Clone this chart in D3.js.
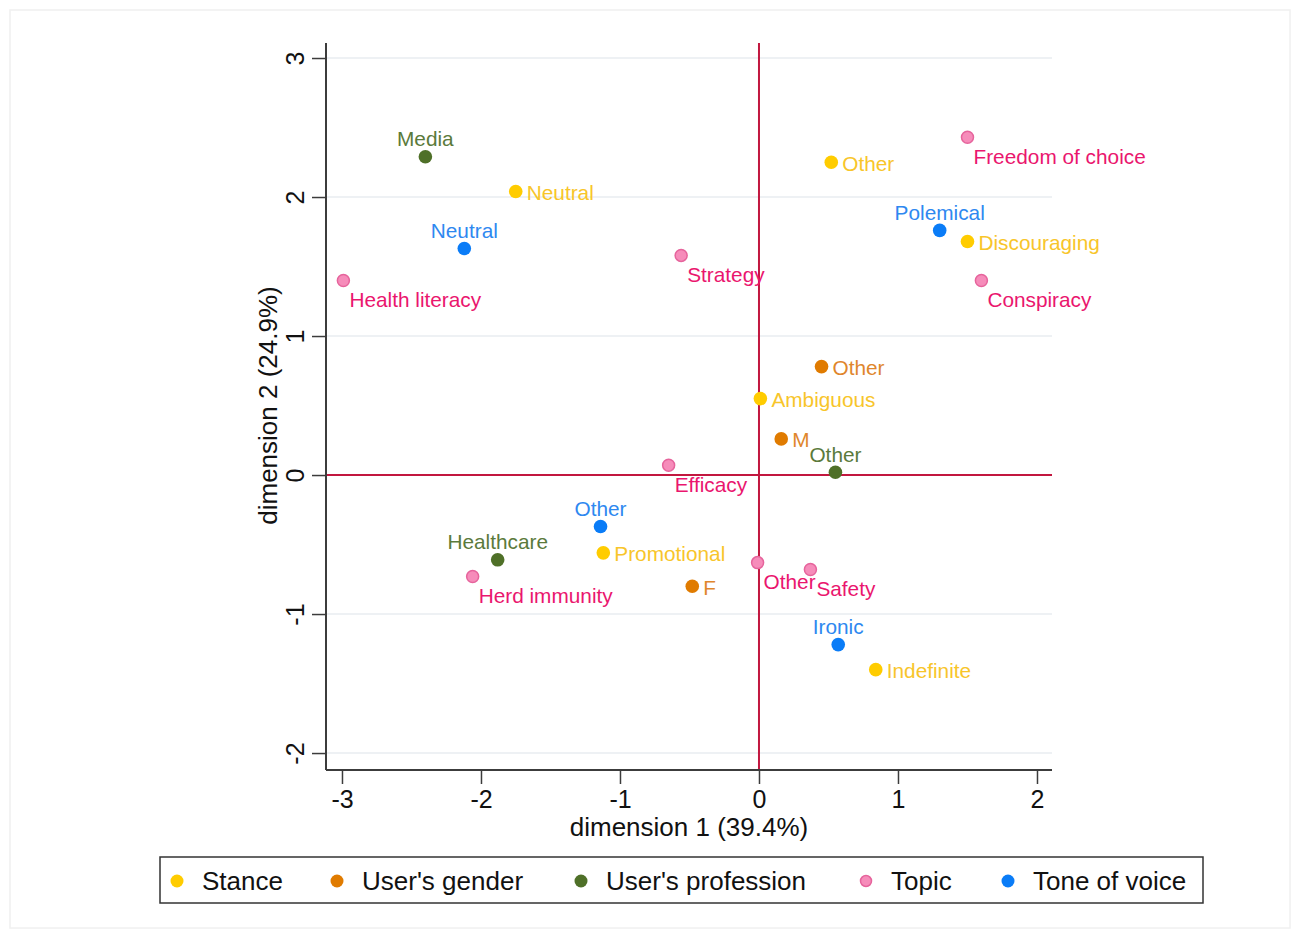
<!DOCTYPE html>
<html>
<head>
<meta charset="utf-8">
<script src="https://cdn.jsdelivr.net/npm/d3@7"></script>
<style>
  body { margin: 0; background: #fff; }
  svg { display: block; }
</style>
</head>
<body>
<div id="main-container"></div>
<script>
// Data
const GROUPS = ['Stance', "User's gender", "User's profession", 'Topic', 'Tone of voice'];
const POINT_LABELS = [
    'Media', 'Neutral', 'Neutral', 'Health literacy', 'Strategy', 'Other',
    'Freedom of choice', 'Polemical', 'Discouraging', 'Conspiracy', 'Other', 'Ambiguous',
    'M', 'Other', 'Efficacy', 'Other', 'Healthcare', 'Promotional',
    'Herd immunity', 'F', 'Other', 'Safety', 'Ironic', 'Indefinite'
];
const POINT_GROUPS = [
    "User's profession", 'Stance', 'Tone of voice', 'Topic', 'Topic', 'Stance',
    'Topic', 'Tone of voice', 'Stance', 'Topic', "User's gender", 'Stance',
    "User's gender", "User's profession", 'Topic', 'Tone of voice', "User's profession", 'Stance',
    'Topic', "User's gender", 'Topic', 'Topic', 'Tone of voice', 'Stance'
];
const DIM1 = [
    -2.40, -1.75, -2.12, -2.99, -0.56, 0.52,
    1.50, 1.30, 1.50, 1.60, 0.45, 0.01,
    0.16, 0.55, -0.65, -1.14, -1.88, -1.12,
    -2.06, -0.48, -0.01, 0.37, 0.57, 0.84
];
const DIM2 = [
    2.29, 2.04, 1.63, 1.40, 1.58, 2.25,
    2.43, 1.76, 1.68, 1.40, 0.78, 0.55,
    0.26, 0.02, 0.07, -0.37, -0.61, -0.56,
    -0.73, -0.80, -0.63, -0.68, -1.22, -1.40
];
const X_TICKS = [-3, -2, -1, 0, 1, 2];
const Y_TICKS = [-2, -1, 0, 1, 2, 3];
const X_TITLE = 'dimension 1 (39.4%)';
const Y_TITLE = 'dimension 2 (24.9%)';

// Styles per group
const DOT_FILL = { 'Stance': '#ffcc00', "User's gender": '#e07b00', "User's profession": '#4f7028', 'Topic': '#f68cba', 'Tone of voice': '#0a7cf7' };
const DOT_STROKE = { 'Stance': 'none', "User's gender": 'none', "User's profession": 'none', 'Topic': '#e6649c', 'Tone of voice': 'none' };
const TEXT_FILL = { 'Stance': '#f8c52a', "User's gender": '#e0862c', "User's profession": '#5b7a3b', 'Topic': '#ea166e', 'Tone of voice': '#2e88f0' };
const LABEL_POS = { 'Stance': 'right', "User's gender": 'right', "User's profession": 'above', 'Topic': 'below', 'Tone of voice': 'above' };

const W = 1296, H = 937;
const PLOT = { left: 326, right: 1052, top: 43, bottom: 770 };
const AXIS_FONT = '"Liberation Sans Narrow", "Liberation Sans", Arial, sans-serif';
const LABEL_FONT = '"Liberation Sans", Arial, sans-serif';

const SVG = d3.select('#main-container').append('svg')
    .attr('width', W)
    .attr('height', H);

// faint outer frame
SVG.append('rect')
    .attr('x', 10).attr('y', 10)
    .attr('width', 1280).attr('height', 918)
    .attr('fill', 'none')
    .attr('stroke', '#f0f0f0')
    .attr('stroke-width', 1.5);

// Scales
const X_SCALE = d3.scaleLinear().domain([-3.115, 2.108]).range([PLOT.left, PLOT.right]);
const Y_SCALE = d3.scaleLinear().domain([-2.122, 3.108]).range([PLOT.bottom, PLOT.top]);

// Gridlines
SVG.append('g')
    .selectAll('line')
    .data(Y_TICKS.filter(d => d !== 0))
    .enter().append('line')
    .attr('x1', PLOT.left).attr('x2', PLOT.right)
    .attr('y1', d => Y_SCALE(d)).attr('y2', d => Y_SCALE(d))
    .attr('stroke', '#e9edf0')
    .attr('stroke-width', 1.5);

// Reference lines at 0
SVG.append('line')
    .attr('x1', PLOT.left).attr('x2', PLOT.right)
    .attr('y1', Y_SCALE(0)).attr('y2', Y_SCALE(0))
    .attr('stroke', '#c2173f').attr('stroke-width', 2);
SVG.append('line')
    .attr('x1', X_SCALE(0)).attr('x2', X_SCALE(0))
    .attr('y1', PLOT.top).attr('y2', PLOT.bottom)
    .attr('stroke', '#c2173f').attr('stroke-width', 2);

// Axes (plain hyphen for negatives, like the original)
const fmt = d => String(d);
const xAxis = SVG.append('g')
    .attr('transform', `translate(0, ${PLOT.bottom})`)
    .call(d3.axisBottom(X_SCALE).tickValues(X_TICKS).tickSize(14).tickPadding(6).tickFormat(fmt));
const yAxis = SVG.append('g')
    .attr('transform', `translate(${PLOT.left}, 0)`)
    .call(d3.axisLeft(Y_SCALE).tickValues(Y_TICKS).tickSize(14).tickFormat(fmt));

[xAxis, yAxis].forEach(g => {
    g.select('.domain').attr('stroke', '#3c3c3c').attr('stroke-width', 2);
    g.selectAll('.tick line').attr('stroke', '#3c3c3c').attr('stroke-width', 1.5);
    g.selectAll('.tick text')
        .attr('fill', '#111')
        .style('font-family', AXIS_FONT)
        .style('font-size', '25px');
});
// the domain path of d3 has outer ticks; flatten it to a plain line
xAxis.select('.domain').attr('d', `M${PLOT.left},0H${PLOT.right}`);
yAxis.select('.domain').attr('d', `M0,${PLOT.top}V${PLOT.bottom}`);

yAxis.selectAll('.tick text')
    .attr('x', 0).attr('y', 0).attr('dy', '0.35em')
    .attr('text-anchor', 'middle')
    .attr('transform', 'translate(-31, 0) rotate(-90)');

// Axis titles
SVG.append('text')
    .attr('x', (PLOT.left + PLOT.right) / 2)
    .attr('y', 836)
    .attr('text-anchor', 'middle')
    .attr('fill', '#111')
    .style('font-family', AXIS_FONT)
    .style('font-size', '26px')
    .text(X_TITLE);
SVG.append('text')
    .attr('transform', `translate(277, ${Y_SCALE(0.5)}) rotate(-90)`)
    .attr('text-anchor', 'middle')
    .attr('fill', '#111')
    .style('font-family', AXIS_FONT)
    .style('font-size', '26px')
    .text(Y_TITLE);

// Points
const POINTS = POINT_LABELS.map((label, i) => ({ label, group: POINT_GROUPS[i], x: DIM1[i], y: DIM2[i] }));

SVG.append('g')
    .selectAll('circle')
    .data(POINTS)
    .enter().append('circle')
    .attr('cx', d => X_SCALE(d.x))
    .attr('cy', d => Y_SCALE(d.y))
    .attr('r', d => d.group === 'Topic' ? 6 : 6.8)
    .attr('fill', d => DOT_FILL[d.group])
    .attr('stroke', d => DOT_STROKE[d.group])
    .attr('stroke-width', 1.5);

SVG.append('g')
    .selectAll('text')
    .data(POINTS)
    .enter().append('text')
    .attr('x', d => {
        const pos = LABEL_POS[d.group];
        if (pos === 'right') return X_SCALE(d.x) + 11;
        if (pos === 'below') return X_SCALE(d.x) + 6;
        return X_SCALE(d.x);
    })
    .attr('y', d => {
        const pos = LABEL_POS[d.group];
        if (pos === 'above') return Y_SCALE(d.y) - 18;
        if (pos === 'below') return Y_SCALE(d.y) + 19;
        return Y_SCALE(d.y) + 1;
    })
    .attr('dy', '0.35em')
    .attr('text-anchor', d => LABEL_POS[d.group] === 'above' ? 'middle' : 'start')
    .attr('fill', d => TEXT_FILL[d.group])
    .style('font-family', LABEL_FONT)
    .style('font-size', '20.8px')
    .text(d => d.label);

// Legend
const LEGEND = SVG.append('g').attr('id', 'legend');
LEGEND.append('rect')
    .attr('x', 160).attr('y', 857)
    .attr('width', 1043).attr('height', 46)
    .attr('fill', '#fff')
    .attr('stroke', '#333')
    .attr('stroke-width', 1.5);
const LEGEND_X = [177, 337, 581, 866, 1008];
const legendItems = LEGEND.selectAll('g.item')
    .data(GROUPS)
    .enter().append('g')
    .attr('class', 'item')
    .attr('transform', (d, i) => `translate(${LEGEND_X[i]}, 881)`);
legendItems.append('circle')
    .attr('r', d => d === 'Topic' ? 5.5 : 6.5)
    .attr('fill', d => DOT_FILL[d])
    .attr('stroke', d => DOT_STROKE[d])
    .attr('stroke-width', 1.5);
legendItems.append('text')
    .attr('x', 25)
    .attr('dy', '0.35em')
    .attr('fill', '#111')
    .style('font-family', AXIS_FONT)
    .style('font-size', '26px')
    .text(d => d);
</script>
</body>
</html>
